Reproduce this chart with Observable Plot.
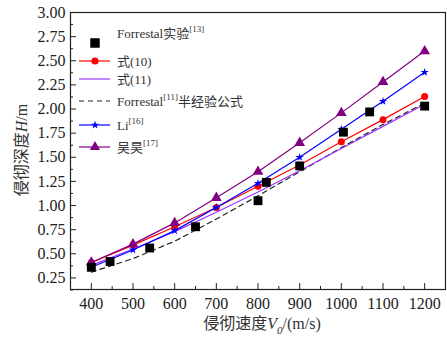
<!DOCTYPE html>
<html><head><meta charset="utf-8">
<script src="https://cdn.jsdelivr.net/npm/d3@7"></script>
<script src="https://cdn.jsdelivr.net/npm/@observablehq/plot@0.6"></script>
<style>
body{margin:0;background:#fff;}
#wrap{position:relative;width:447px;height:338px;font-family:"Liberation Serif","Times New Roman","Noto Sans CJK SC",serif;}
#wrap svg text{font-family:"Liberation Serif","Times New Roman","Noto Sans CJK SC",serif;}
.ylab{position:absolute;left:20px;top:150px;transform:translate(-50%,-50%) rotate(-90deg);font-size:16px;white-space:nowrap;color:#333;}
.xlab{position:absolute;left:262px;top:323px;transform:translate(-50%,-50%);font-size:16px;white-space:nowrap;color:#333;}
</style></head>
<body><div id="wrap"></div>
<script>
const speeds = [400, 500, 600, 700, 800, 900, 1000, 1100, 1200];
const eq10 = [0.41, 0.59, 0.78, 0.98, 1.20, 1.42, 1.66, 1.89, 2.13];
const eq11 = [0.38, 0.55, 0.73, 0.93, 1.14, 1.36, 1.59, 1.82, 2.05];
const forrestalFormula = [0.31, 0.45, 0.63, 0.86, 1.10, 1.35, 1.60, 1.84, 2.06];
const li = [0.36, 0.54, 0.74, 0.98, 1.23, 1.50, 1.79, 2.08, 2.38];
const wuhao = [0.41, 0.60, 0.82, 1.08, 1.35, 1.65, 1.96, 2.28, 2.60];
const expSpeed = [400, 445, 540, 650, 800, 820, 900, 1005, 1068, 1200];
const expDepth = [0.36, 0.42, 0.56, 0.78, 1.05, 1.24, 1.41, 1.76, 1.97, 2.03];
const xTicks = [400, 500, 600, 700, 800, 900, 1000, 1100, 1200];
const yTicks = [0.25, 0.50, 0.75, 1.00, 1.25, 1.50, 1.75, 2.00, 2.25, 2.50, 2.75, 3.00];
const xMinor = [350, 450, 550, 650, 750, 850, 950, 1050, 1150];
const yMinor = [0.125, 0.375, 0.625, 0.875, 1.125, 1.375, 1.625, 1.875, 2.125, 2.375, 2.625, 2.875];

const mk = (arr) => speeds.map((s, i) => ({x: s, y: arr[i]}));
const exp = expSpeed.map((s, i) => ({x: s, y: expDepth[i]}));

const cRed = "#ff0000", cViolet = "#9933ff", cBlue = "#0000ff", cPurple = "#800080", cDash = "#222";

const plot = Plot.plot({
  width: 447, height: 338,
  marginLeft: 70, marginRight: 2, marginTop: 12, marginBottom: 49,
  style: {fontSize: "16px", color: "#222", background: "white"},
  x: {domain: [350, 1250]},
  y: {domain: [0.13, 3.0]},
  marks: [
    Plot.axisX({ticks: xTicks, tickSize: 0, tickPadding: 8, tickFormat: d3.format("d"), label: null, fontSize: 16}),
    Plot.axisX({ticks: xTicks, tickSize: -6, tickFormat: () => "", label: null}),
    Plot.axisX({ticks: xMinor, tickSize: -3, tickFormat: () => "", label: null}),
    Plot.axisY({ticks: yTicks, tickSize: 0, tickPadding: 5, tickFormat: d3.format(".2f"), label: null, fontSize: 16}),
    Plot.axisY({ticks: yTicks, tickSize: -6, tickFormat: () => "", label: null}),
    Plot.axisY({ticks: yMinor, tickSize: -3, tickFormat: () => "", label: null}),
    Plot.frame({stroke: "#222", strokeWidth: 1.2}),
    Plot.line(mk(forrestalFormula), {x: "x", y: "y", stroke: cDash, strokeWidth: 1.2, strokeDasharray: "5,4"}),
    Plot.line(mk(eq11), {x: "x", y: "y", stroke: cViolet, strokeWidth: 1.2}),
    Plot.line(mk(eq10), {x: "x", y: "y", stroke: cRed, strokeWidth: 1.2}),
    Plot.dot(mk(eq10), {x: "x", y: "y", fill: cRed, r: 3.5}),
    Plot.line(mk(li), {x: "x", y: "y", stroke: cBlue, strokeWidth: 1.2}),
    Plot.dot(mk(li), {x: "x", y: "y", fill: cBlue, symbol: "star", r: 2.6}),
    Plot.line(mk(wuhao), {x: "x", y: "y", stroke: cPurple, strokeWidth: 1.2}),
    Plot.dot(mk(wuhao), {x: "x", y: "y", fill: cPurple, symbol: "triangle", r: 4}),
    Plot.dot(exp, {x: "x", y: "y", fill: "#000", symbol: "square", r: 5})
  ]
});
const wrap = document.getElementById("wrap");
wrap.appendChild(plot);

// legend overlay
const svg = d3.select(plot);
const lg = svg.append("g").attr("font-size", "13px").attr("fill", "#333").attr("text-anchor", "start");
const items = [
  {label: "Forrestal实验", sup: "[13]", y: 33, sym: "square", color: "#000", line: false, sy: 43},
  {label: "式(10)", sup: "", y: 61, sym: "circle", color: cRed, line: true},
  {label: "式(11)", sup: "", y: 79, sym: null, color: cViolet, line: true},
  {label: "Forrestal", sup: "[11]", after: "半经验公式", y: 101, sym: null, color: cDash, line: true, dash: "5,4"},
  {label: "Li", sup: "[16]", y: 125, sym: "star", color: cBlue, line: true},
  {label: "吴昊", sup: "[17]", y: 147, sym: "triangle", color: cPurple, line: true}
];
const symMap = {square: d3.symbolSquare, circle: d3.symbolCircle, star: d3.symbolStar, triangle: d3.symbolTriangle};
const symSize = {square: 90, circle: 40, star: 22, triangle: 45};
items.forEach(it => {
  if (it.line) {
    lg.append("line").attr("x1", 79).attr("x2", 110).attr("y1", it.y).attr("y2", it.y)
      .attr("stroke", it.color).attr("stroke-width", 1.2).attr("stroke-dasharray", it.dash || null);
  }
  if (it.sym) {
    lg.append("path").attr("d", d3.symbol(symMap[it.sym], symSize[it.sym])())
      .attr("transform", `translate(95,${it.sy || it.y})`).attr("fill", it.color);
  }
  const t = lg.append("text").attr("x", 117).attr("y", it.y).attr("dy", "0.35em").attr("text-anchor", "start");
  t.append("tspan").text(it.label);
  if (it.sup) t.append("tspan").attr("font-size", "9px").attr("dy", "-0.6em").text(it.sup);
  if (it.after) t.append("tspan").attr("dy", "0.45em").text(it.after);
});

const yl = document.createElement("div");
yl.className = "ylab";
yl.innerHTML = '侵彻深度<i>H</i>/m';
wrap.appendChild(yl);
const xl = document.createElement("div");
xl.className = "xlab";
xl.innerHTML = '侵彻速度<i>V</i><sub style="font-size:11px;"><i>0</i></sub>/(m/s)';
wrap.appendChild(xl);
</script></body></html>
